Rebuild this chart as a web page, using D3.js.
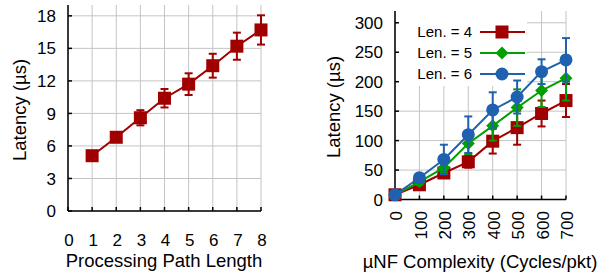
<!DOCTYPE html>
<html>
<head>
<meta charset="utf-8">
<script src="https://cdn.jsdelivr.net/npm/d3@7"></script>
<style>
  body { margin: 0; background: #fff; }
  text { font-family: "Liberation Sans", Arial, sans-serif; fill: #000; }
</style>
</head>
<body>
<div id="chart"></div>
<script>
// left panel data
const pathLen = [1, 2, 3, 4, 5, 6, 7, 8];
const pathLatency = [5.1, 6.8, 8.6, 10.4, 11.7, 13.4, 15.2, 16.7];
const pathErr = [0.3, 0.4, 0.7, 0.85, 1.0, 1.1, 1.25, 1.35];
const leftXTicks = [0, 1, 2, 3, 4, 5, 6, 7, 8];
const leftYTicks = [0, 3, 6, 9, 12, 15, 18];

// right panel data
const cycles = [0, 100, 200, 300, 400, 500, 600, 700];
const len4 = [8, 25, 45, 64, 99, 122, 146, 168];
const err4 = [2, 4, 6, 10, 21, 29, 22, 28];
const len5 = [8, 30, 54, 95, 125, 156, 185, 206];
const err5 = [2, 5, 8, 18, 25, 31, 28, 38];
const len6 = [8, 37, 68, 110, 152, 174, 217, 237];
const err6 = [2, 5, 25, 31, 30, 28, 21, 37];
const seriesNames = ['Len. = 4', 'Len. = 5', 'Len. = 6'];
const rightYTicks = [0, 50, 100, 150, 200, 250, 300];

const red = '#a00000', green = '#00a000', blue = '#2060b0';
const gridColor = '#c4c4c4';

const svg = d3.select('#chart').append('svg')
    .attr('width', 599)
    .attr('height', 274);

// markers
function marker(g, shape, color, x, y) {
    if (shape === 'square') {
        g.append('rect')
            .attr('x', x - 6.5).attr('y', y - 6.5)
            .attr('width', 13).attr('height', 13)
            .attr('fill', color);
    } else if (shape === 'circle') {
        g.append('circle')
            .attr('cx', x).attr('cy', y).attr('r', 6.5)
            .attr('fill', color);
    } else {
        g.append('path')
            .attr('d', `M${x},${y - 6.5}L${x + 6.5},${y}L${x},${y + 6.5}L${x - 6.5},${y}Z`)
            .attr('fill', color);
    }
}

// draws a series with error bars
function drawSeries(g, xs, ys, errs, x, y, color, shape) {
    const pts = xs.map(function (d, i) { return {x: d, y: ys[i], e: errs[i]}; });
    g.append('path')
        .datum(pts)
        .attr('fill', 'none')
        .attr('stroke', color)
        .attr('stroke-width', 2)
        .attr('d', d3.line().x(function (d) { return x(d.x); }).y(function (d) { return y(d.y); }));
    pts.forEach(function (d) {
        const cx = x(d.x);
        const e = g.append('g').attr('stroke', color).attr('stroke-width', 2);
        e.append('line').attr('x1', cx).attr('x2', cx).attr('y1', y(d.y - d.e)).attr('y2', y(d.y + d.e));
        e.append('line').attr('x1', cx - 4).attr('x2', cx + 4).attr('y1', y(d.y - d.e)).attr('y2', y(d.y - d.e));
        e.append('line').attr('x1', cx - 4).attr('x2', cx + 4).attr('y1', y(d.y + d.e)).attr('y2', y(d.y + d.e));
    });
    pts.forEach(function (d) {
        marker(g, shape, color, x(d.x), y(d.y));
    });
}

// draws grid, axis lines and inward ticks
function frame(g, x, y, xTicks, yTicks) {
    const [x0, x1] = x.range();
    const [y0, y1] = y.range();
    const grid = g.append('g').attr('stroke', gridColor).attr('stroke-width', 1);
    xTicks.forEach(function (t) {
        grid.append('line').attr('x1', x(t)).attr('x2', x(t)).attr('y1', y0).attr('y2', y1);
    });
    yTicks.forEach(function (t) {
        grid.append('line').attr('x1', x0).attr('x2', x1).attr('y1', y(t)).attr('y2', y(t));
    });
    return grid;
}

function axes(g, x, y, xTicks, yTicks) {
    const [x0, x1] = x.range();
    const [y0, y1] = y.range();
    const ax = g.append('g').attr('stroke', '#000').attr('stroke-width', 1.5);
    ax.append('line').attr('x1', x0).attr('x2', x0).attr('y1', y0).attr('y2', y1);
    ax.append('line').attr('x1', x0).attr('x2', x1).attr('y1', y0).attr('y2', y0);
    xTicks.forEach(function (t) {
        ax.append('line').attr('x1', x(t)).attr('x2', x(t)).attr('y1', y0).attr('y2', y0 - 4);
    });
    yTicks.forEach(function (t) {
        ax.append('line').attr('x1', x0).attr('x2', x0 + 4).attr('y1', y(t)).attr('y2', y(t));
    });
}

// ---------- left panel ----------
const xL = d3.scaleLinear().domain([0, 8]).range([68, 261]);
const yL = d3.scaleLinear().domain([0, 19]).range([211, 5]);
const gL = svg.append('g');

frame(gL, xL, yL, leftXTicks, leftYTicks);
axes(gL, xL, yL, leftXTicks, leftYTicks);
drawSeries(gL, pathLen, pathLatency, pathErr, xL, yL, red, 'square');

gL.append('g').selectAll('text')
    .data(leftYTicks).enter().append('text')
    .attr('x', 56).attr('y', function (d) { return yL(d); })
    .attr('dy', '0.36em')
    .attr('text-anchor', 'end')
    .style('font-size', '17px')
    .text(function (d) { return d; });

gL.append('g').selectAll('text')
    .data(leftXTicks).enter().append('text')
    .attr('x', function (d) { return xL(d) + 1; }).attr('y', 240)
    .attr('dy', '0.36em')
    .attr('text-anchor', 'middle')
    .style('font-size', '17px')
    .text(function (d) { return d; });

gL.append('text')
    .attr('x', 164).attr('y', 267)
    .attr('text-anchor', 'middle')
    .style('font-size', '18.5px')
    .text('Processing Path Length');

gL.append('text')
    .attr('transform', 'translate(19,110) rotate(-90)')
    .attr('dy', '0.36em')
    .attr('text-anchor', 'middle')
    .style('font-size', '18.5px')
    .text('Latency (µs)');

// ---------- right panel ----------
const xR = d3.scaleLinear().domain([0, 700]).range([395, 566]);
const yR = d3.scaleLinear().domain([0, 320]).range([199.5, 11]);
const gR = svg.append('g');

frame(gR, xR, yR, cycles, rightYTicks);

// legend background hides the grid
gR.append('rect')
    .attr('x', 396).attr('y', 11)
    .attr('width', 131).attr('height', 75)
    .attr('fill', '#fff');

axes(gR, xR, yR, cycles, rightYTicks);

drawSeries(gR, cycles, len4, err4, xR, yR, red, 'square');
drawSeries(gR, cycles, len5, err5, xR, yR, green, 'diamond');
drawSeries(gR, cycles, len6, err6, xR, yR, blue, 'circle');

// legend
const legendColors = [red, green, blue];
const legendShapes = ['square', 'diamond', 'circle'];
seriesNames.forEach(function (name, i) {
    const ly = 32 + i * 21;
    const lg = gR.append('g');
    lg.append('text')
        .attr('x', 472).attr('y', ly)
        .attr('dy', '0.36em')
        .attr('text-anchor', 'end')
        .style('font-size', '15px')
        .text(name);
    lg.append('line')
        .attr('x1', 480).attr('x2', 525)
        .attr('y1', ly).attr('y2', ly)
        .attr('stroke', legendColors[i]).attr('stroke-width', 2);
    marker(lg, legendShapes[i], legendColors[i], 502, ly);
});

gR.append('g').selectAll('text')
    .data(rightYTicks).enter().append('text')
    .attr('x', 383).attr('y', function (d) { return yR(d); })
    .attr('dy', '0.36em')
    .attr('text-anchor', 'end')
    .style('font-size', '17px')
    .text(function (d) { return d; });

gR.append('g').selectAll('text')
    .data(cycles).enter().append('text')
    .attr('transform', function (d) { return `translate(${xR(d) + 1},211) rotate(-90)`; })
    .attr('dy', '0.36em')
    .attr('text-anchor', 'end')
    .style('font-size', '17px')
    .text(function (d) { return d; });

gR.append('text')
    .attr('x', 480).attr('y', 268)
    .attr('text-anchor', 'middle')
    .style('font-size', '18.5px')
    .text('µNF Complexity (Cycles/pkt)');

gR.append('text')
    .attr('transform', 'translate(333,107) rotate(-90)')
    .attr('dy', '0.36em')
    .attr('text-anchor', 'middle')
    .style('font-size', '18.5px')
    .text('Latency (µs)');
</script>
</body>
</html>
